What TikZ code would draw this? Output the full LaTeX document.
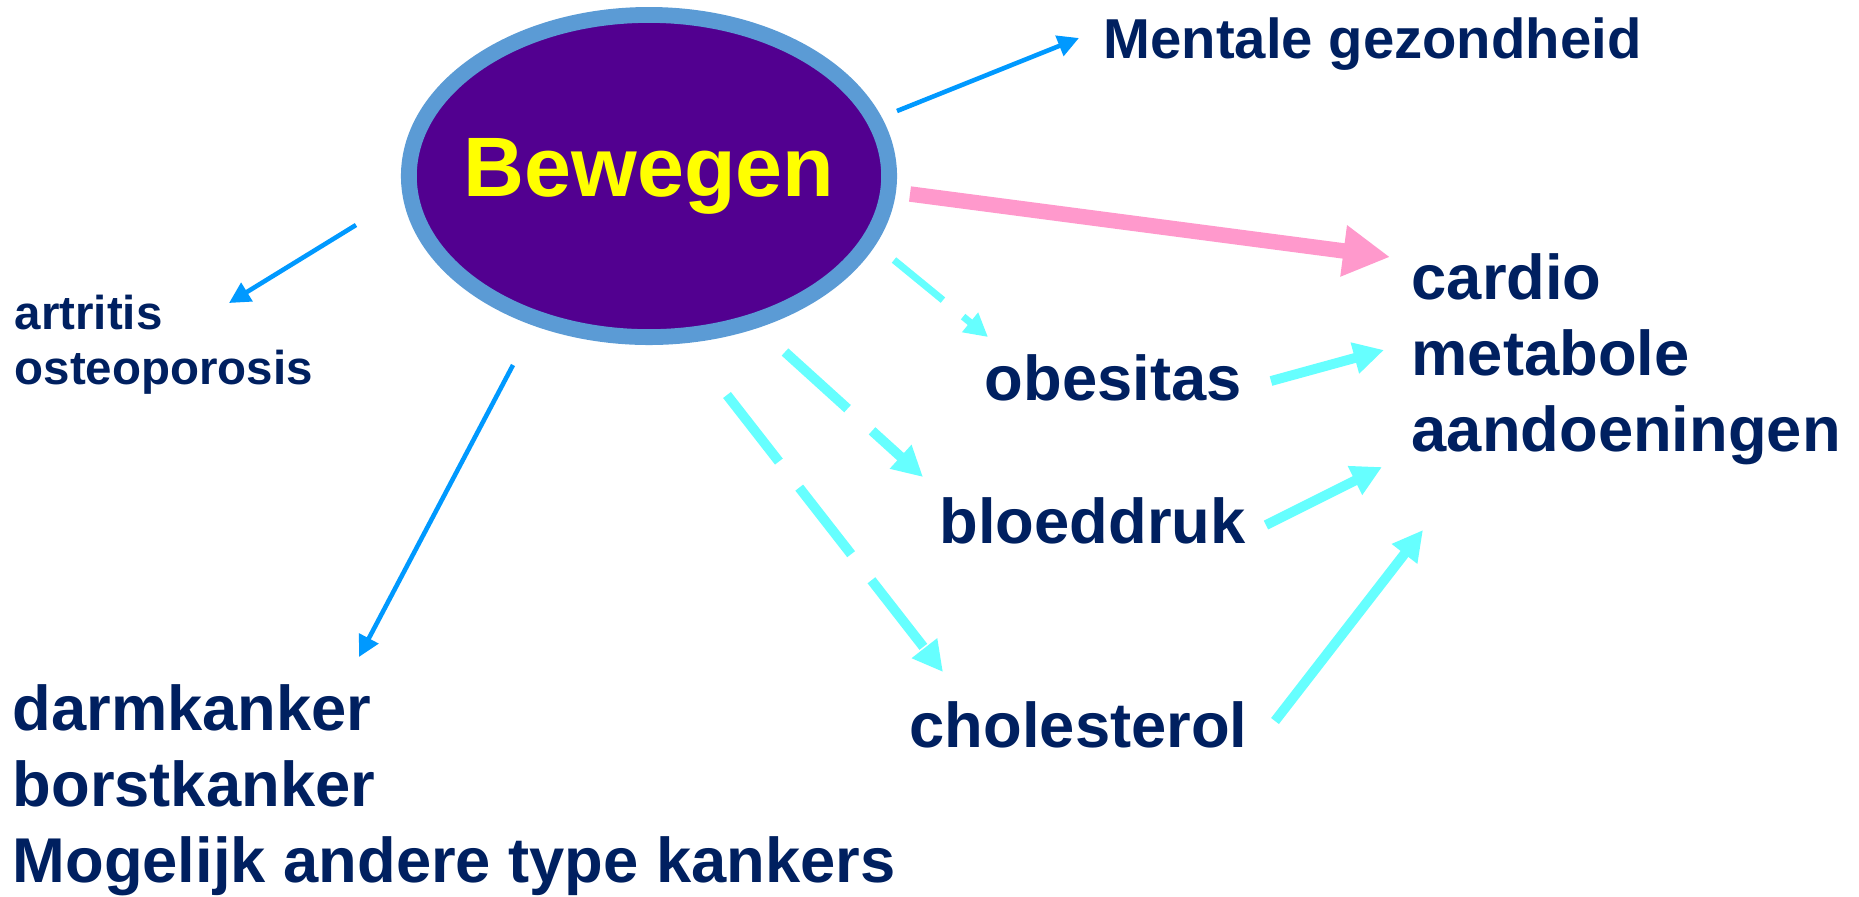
\documentclass[tikz,border=0pt]{standalone}
\usepackage{fontspec}
\setmainfont{Liberation Sans}
\usepackage{xcolor}
\usetikzlibrary{shapes.geometric,arrows.meta}
\definecolor{navy}{RGB}{0,32,96}
\definecolor{paars}{RGB}{82,0,144}
\definecolor{randblauw}{RGB}{91,155,213}
\definecolor{roze}{RGB}{255,153,204}
\definecolor{cyaan}{RGB}{102,255,255}
\definecolor{hemel}{RGB}{0,153,255}
\definecolor{geel}{RGB}{255,255,0}

\begin{document}
\begin{tikzpicture}[x=0.01cm,y=-0.01cm,
  kern/.style={ellipse,draw=randblauw,line width=4.5pt,fill=paars,minimum width=4.8cm,minimum height=3.22cm,inner xsep=-0.2cm,inner ysep=0pt,text=geel,font=\bfseries\fontsize{24}{28}\selectfont},
  lbl/.style={anchor=base west,align=left,inner sep=0pt,text=navy,font=\bfseries\fontsize{18}{21.6}\selectfont},
  klein/.style={lbl,font=\bfseries\fontsize{13.5}{15.5}\selectfont},
  smal/.style={-{Triangle[length=6pt,width=6pt]},line width=1.3pt,draw=hemel},
  dik/.style={-{Triangle[length=13.3pt,width=13.8pt]},line width=4.4pt,draw=roze},
  vol/.style={-{Triangle[length=8.6pt,width=8.6pt]},line width=2.8pt,draw=cyaan},
  streep/.style={vol,dash pattern=on 24pt off 9.4pt}]
  \useasboundingbox (0,0) rectangle (1859,896);
  \node[kern](bew) at (649,176){Bewegen};
  \node[lbl,font=\bfseries\fontsize{16}{19}\selectfont](ment) at (1103,58){Mentale gezondheid};
  \node[lbl](cardio) at (1411,451){cardio\\metabole\\aandoeningen};
  \node[lbl](obes) at (984,400){obesitas};
  \node[lbl](bloed) at (939,543){bloeddruk};
  \node[lbl](chol) at (909,747){cholesterol};
  \node[klein](artr) at (14,384){artritis\\osteoporosis};
  \node[lbl](kanker) at (12,882){darmkanker\\borstkanker\\Mogelijk andere type kankers};
  % vrije eindpunten van de pijlen
  \coordinate (bew-ment) at (897,111); \coordinate (ment-in) at (1079,38);
  \coordinate (bew-hart) at (910,194); \coordinate (hart-in) at (1390,257);
  \coordinate (bew-obes) at (894,260); \coordinate (obes-in) at (988,337);
  \coordinate (bew-bloed) at (785,352); \coordinate (bloed-in) at (923,477);
  \coordinate (bew-chol) at (727,395); \coordinate (chol-in) at (943,672);
  \coordinate (obes-uit) at (1271,381); \coordinate (hart-obes) at (1384,350);
  \coordinate (bloed-uit) at (1266,525); \coordinate (hart-bloed) at (1382,467);
  \coordinate (chol-uit) at (1275,721); \coordinate (hart-chol) at (1423,530);
  \coordinate (bew-artr) at (356,225); \coordinate (artr-in) at (229,303);
  \coordinate (bew-kanker) at (513,365); \coordinate (kanker-in) at (359,657);
  \draw[smal](bew-ment)--(ment-in);\draw[smal](bew-artr)--(artr-in);\draw[smal](bew-kanker)--(kanker-in);
  \draw[dik](bew-hart)--(hart-in);
  \draw[streep,line width=2pt,dash pattern=on 18pt off 7.4pt,-{Triangle[length=6.6pt,width=6.8pt]}](bew-obes)--(obes-in);
  \draw[streep](bew-bloed)--(bloed-in);\draw[streep](bew-chol)--(chol-in);
  \draw[vol](obes-uit)--(hart-obes);\draw[vol](bloed-uit)--(hart-bloed);\draw[vol](chol-uit)--(hart-chol);
\end{tikzpicture}
\end{document}
